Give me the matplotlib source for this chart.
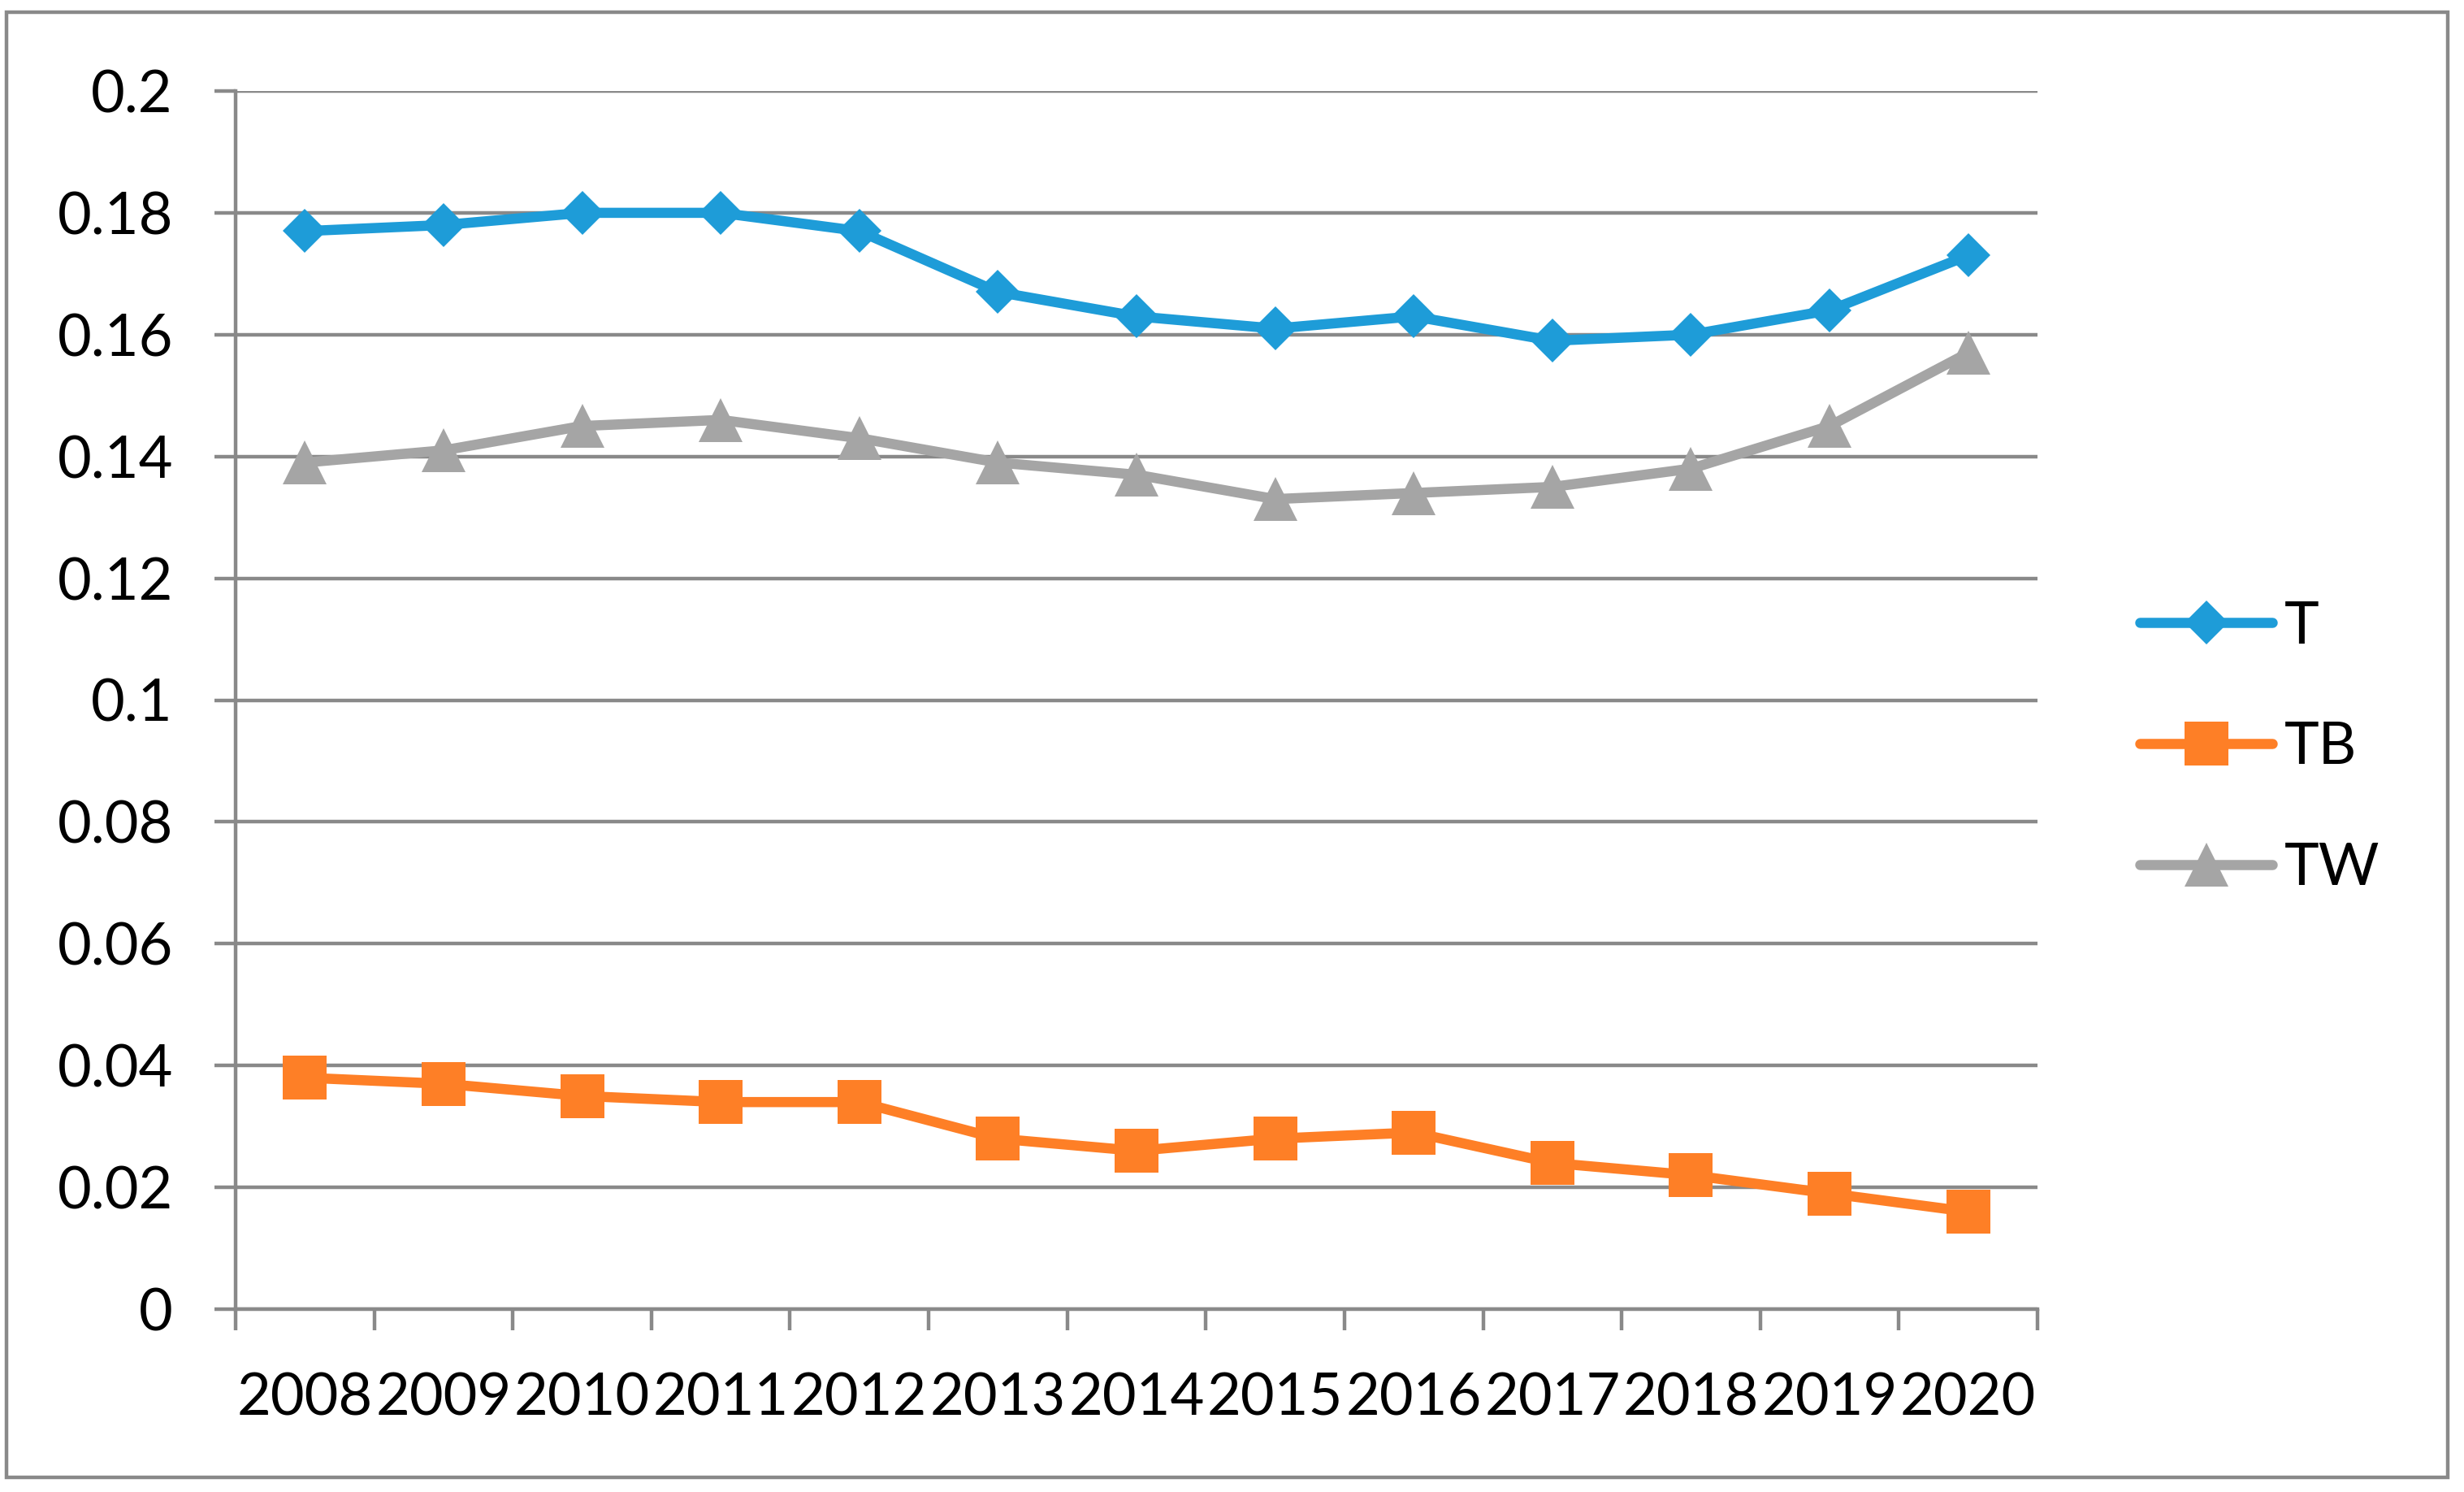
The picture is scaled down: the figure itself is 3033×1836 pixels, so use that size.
import matplotlib
matplotlib.use("Agg")
import matplotlib.pyplot as plt
from matplotlib.patches import Rectangle

years = ["2008", "2009", "2010", "2011", "2012", "2013", "2014",
         "2015", "2016", "2017", "2018", "2019", "2020"]
T = [0.177, 0.178, 0.180, 0.180, 0.177, 0.167, 0.163, 0.161, 0.163, 0.159, 0.160, 0.164, 0.173]
TB = [0.038, 0.037, 0.035, 0.034, 0.034, 0.028, 0.026, 0.028, 0.029, 0.024, 0.022, 0.019, 0.016]
TW = [0.139, 0.141, 0.145, 0.146, 0.143, 0.139, 0.137, 0.133, 0.134, 0.135, 0.138, 0.145, 0.157]
yticks = [0, 0.02, 0.04, 0.06, 0.08, 0.1, 0.12, 0.14, 0.16, 0.18, 0.2]
ytick_labels = ["0", "0.02", "0.04", "0.06", "0.08", "0.1", "0.12", "0.14", "0.16", "0.18", "0.2"]

plt.rcParams['font.family'] = ['Lato', 'DejaVu Sans']
FS = 52
GRID = '#898989'
W, H = 3033, 1836
fig = plt.figure(figsize=(W / 100, H / 100), dpi=100)
fig.patch.set_facecolor('white')

L, R, B, Tp = 290, 2508, 1611, 112
ax = fig.add_axes([L / W, 1 - B / H, (R - L) / W, (B - Tp) / H])

x = list(range(len(years)))
lw = 9
series = [
    ("T", T, '#1E9CD8', 'D', 28),
    ("TB", TB, '#FE7F26', 's', 39),
    ("TW", TW, '#A5A5A5', '^', 39),
]
for name, vals, col, mk, ms in series:
    ax.plot(x, vals, color=col, lw=lw, marker=mk, markersize=ms,
            markeredgewidth=0, markerfacecolor=col, label=name,
            solid_joinstyle='round', solid_capstyle='round', zorder=3)

ax.set_xlim(-0.5, len(years) - 0.5)
ax.set_ylim(0, 0.2)
ax.set_yticks(yticks)
ax.set_yticklabels(ytick_labels)
ax.set_xticks(x)
ax.set_xticklabels(years)
ax.set_xticks([i - 0.5 for i in range(len(years) + 1)], minor=True)

for s in ['top', 'right']:
    ax.spines[s].set_visible(False)
for s in ['left', 'bottom']:
    ax.spines[s].set_color(GRID)
    ax.spines[s].set_linewidth(3.2)
ax.grid(axis='y', color=GRID, linewidth=3.2, zorder=1)
ax.set_axisbelow(True)

ax.tick_params(axis='y', which='major', length=18.5, width=3.2, color=GRID,
               labelsize=FS, pad=37, direction='out')
ax.tick_params(axis='x', which='major', length=0, labelsize=FS, pad=56)
ax.tick_params(axis='x', which='minor', length=18.5, width=3.2, color=GRID, direction='out')

leg = fig.legend(loc='center left', bbox_to_anchor=(2634 / W, 1 - 920 / H),
                 frameon=False, fontsize=FS, handlelength=2.26, handletextpad=0.2,
                 labelspacing=1.16, borderpad=0, borderaxespad=0, numpoints=1)
for h in leg.legend_handles:
    h.set_solid_capstyle('round')

fig.patches.append(Rectangle((8 / W, 1 - 1818 / H), 3005 / W, (1818 - 15) / H,
                             transform=fig.transFigure, fill=False,
                             edgecolor=GRID, linewidth=3.2, zorder=0))

fig.savefig('out.png', dpi=100, facecolor='white')
